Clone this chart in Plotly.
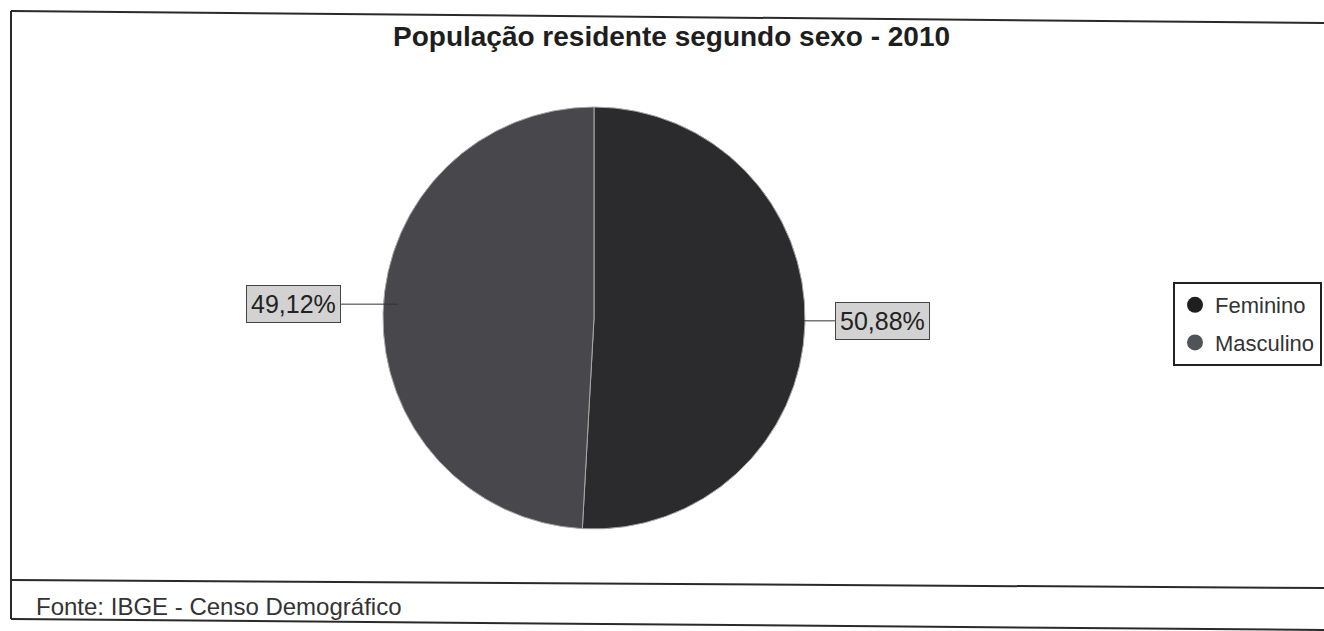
import math
import plotly.graph_objects as go

# ---- data ----
categories = ["Feminino", "Masculino"]
shares = [50.88, 49.12]
slice_colors = ["#2b2b2e", "#48484c"]
legend_colors = ["#1f1f22", "#505359"]
title_text = "População residente segundo sexo - 2010"
source_text = "Fonte: IBGE - Censo Demográfico"

# ---- layout helpers (pixel -> paper) ----
W, H = 1324, 631
FONT = "Arial, Liberation Sans, sans-serif"


def px(x):
    return x / W


def py(y):
    return 1 - y / H


cx, cy, r = 594, 318, 211

fig = go.Figure()
fig.add_trace(go.Pie(
    labels=categories,
    values=shares,
    sort=False,
    direction="clockwise",
    rotation=0,
    textinfo="none",
    hoverinfo="label+percent",
    showlegend=False,
    marker=dict(colors=slice_colors, line=dict(color="#a8a8a8", width=1)),
    domain=dict(x=[px(cx - r), px(cx + r)], y=[py(cy + r), py(cy - r)]),
))

# legend entries with round markers
for name, col in zip(categories, legend_colors):
    fig.add_trace(go.Scatter(
        x=[None], y=[None], mode="markers", name=name,
        marker=dict(symbol="circle", size=16, color=col, line=dict(width=0)),
        legendgroup=name,
    ))

# percentage labels with leader lines, computed from the data
total = sum(shares)
annotations = []
shapes = []
start = 0.0
for name, v in zip(categories, shares):
    frac = v / total
    mid = (start + frac / 2) * 2 * math.pi  # clockwise from 12 o'clock
    start += frac
    ex = cx + r * math.sin(mid)
    ey = cy - r * math.cos(mid)
    side = 1 if math.sin(mid) > 0 else -1
    gap = 30 if side > 0 else 42
    lx = ex + side * gap
    ly = ey + (-3 if side > 0 else -8)
    txt = f"{frac * 100:.2f}%".replace(".", ",")
    shapes.append(dict(type="line", xref="paper", yref="paper",
                       x0=px(ex + (-1 if side > 0 else 15)), y0=py(ly),
                       x1=px(lx), y1=py(ly),
                       line=dict(color="#333333", width=1)))
    annotations.append(dict(
        x=px(lx), y=py(ly), xref="paper", yref="paper",
        xanchor="left" if side > 0 else "right", yanchor="middle",
        text=txt, showarrow=False,
        font=dict(family=FONT, size=25, color="#222222"),
        bgcolor="#d2d2d2", bordercolor="#444444", borderwidth=1, borderpad=4,
    ))

# title and source
annotations.append(dict(
    x=px(671), y=py(36), xref="paper", yref="paper",
    xanchor="center", yanchor="middle", showarrow=False,
    text=f"<b>{title_text}</b>",
    font=dict(family=FONT, size=28, color="#1e1e1e"),
))
annotations.append(dict(
    x=px(34), y=py(606), xref="paper", yref="paper",
    xanchor="left", yanchor="middle", showarrow=False,
    text=source_text,
    font=dict(family=FONT, size=24, color="#333333"),
))

# frame lines (slightly tilted like the scanned original)
frame = [
    ((11, 11), (1324, 23)),
    ((11, 11), (11, 619)),
    ((11, 580), (1324, 588)),
    ((11, 619), (1324, 630)),
]
for (x0, y0), (x1, y1) in frame:
    shapes.append(dict(type="line", xref="paper", yref="paper",
                       x0=px(x0), y0=py(y0), x1=px(x1), y1=py(y1),
                       line=dict(color="#2a2a2a", width=2)))

fig.update_layout(
    width=W, height=H,
    margin=dict(l=0, r=0, t=0, b=0),
    paper_bgcolor="white", plot_bgcolor="white",
    xaxis=dict(visible=False), yaxis=dict(visible=False),
    annotations=annotations,
    shapes=shapes,
    legend=dict(
        x=px(1173), y=py(282), xanchor="left", yanchor="top",
        bordercolor="#222222", borderwidth=2, bgcolor="white",
        font=dict(family=FONT, size=22, color="#333333"),
        tracegroupgap=6, traceorder="grouped",
        itemwidth=30, entrywidth=170,
    ),
    showlegend=True,
)

fig.write_html(
    "out.html",
    config={"displayModeBar": False},
    post_script="document.body.style.margin='0';document.body.style.overflow='hidden';",
)
